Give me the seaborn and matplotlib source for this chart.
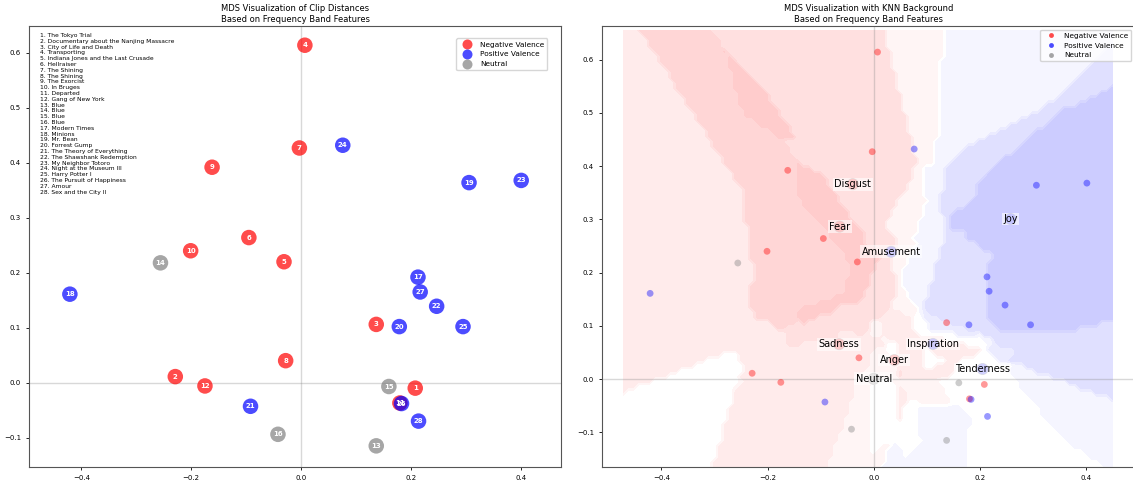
import numpy as np
import pandas as pd
import matplotlib
matplotlib.use("Agg")
import matplotlib.pyplot as plt
from matplotlib.lines import Line2D
from matplotlib.colors import ListedColormap
import seaborn as sns

# ---------------
# Data
# ---------------
clip_titles = [
    "The Tokyo Trial", "Documentary about the Nanjing Massacre", "City of Life and Death",
    "Transporting", "Indiana Jones and the Last Crusade", "Hellraiser", "The Shining",
    "The Shining", "The Exorcist", "In Bruges", "Departed", "Gang of New York",
    "Blue", "Blue", "Blue", "Blue", "Modern Times", "Minions", "Mr. Bean", "Forrest Gump",
    "The Theory of Everything", "The Shawshank Redemption", "My Neighbor Totoro",
    "Night at the Museum III", "Harry Potter I", "The Pursuit of Happiness", "Amour",
    "Sex and the City II",
]
mds_x = [0.208, -0.229, 0.137, 0.007, -0.031, -0.095, -0.003, -0.028, -0.162, -0.201,
         0.180, -0.175, 0.137, -0.256, 0.160, -0.042, 0.213, -0.421, 0.306, 0.179,
         -0.092, 0.247, 0.401, 0.076, 0.295, 0.183, 0.217, 0.214]
mds_y = [-0.010, 0.011, 0.106, 0.614, 0.220, 0.264, 0.427, 0.040, 0.392, 0.240,
         -0.037, -0.006, -0.115, 0.218, -0.007, -0.094, 0.192, 0.161, 0.364, 0.102,
         -0.043, 0.139, 0.368, 0.432, 0.102, -0.038, 0.165, -0.070]
valence = ["Negative Valence"] * 12 + ["Neutral"] * 4 + ["Positive Valence"] * 12
emotion = (["Anger"] * 3 + ["Disgust"] * 3 + ["Fear"] * 3 + ["Sadness"] * 3 + ["Neutral"] * 4
           + ["Amusement"] * 3 + ["Inspiration"] * 3 + ["Joy"] * 3 + ["Tenderness"] * 3)

valence_order = ["Negative Valence", "Positive Valence", "Neutral"]
valence_colors = {"Negative Valence": "red", "Positive Valence": "blue", "Neutral": "gray"}
valence_score = {"Negative Valence": -1, "Neutral": 0, "Positive Valence": 1}

df = pd.DataFrame({"clip": range(1, 29), "x": mds_x, "y": mds_y,
                   "valence": valence, "emotion": emotion})

centroids = df.groupby("emotion", sort=False)[["x", "y"]].mean()
centroids["valence"] = df.groupby("emotion", sort=False)["valence"].first()

# ---------------
# Figure
# ---------------
fig = plt.figure(figsize=(11.33, 4.84), dpi=100)
ax1 = fig.add_axes([0.026, 0.0351, 0.4695, 0.9112])
ax2 = fig.add_axes([0.5316, 0.0351, 0.4699, 0.9112])

# ---------------
# LEFT: MDS scatter with clip numbers
# ---------------
sns.scatterplot(data=df, x="x", y="y", hue="valence", palette=valence_colors,
                hue_order=valence_order, s=125, alpha=0.7, linewidth=0,
                legend=False, ax=ax1, zorder=3)
for _, r in df.iterrows():
    ax1.text(r["x"], r["y"], str(r["clip"]), color="white", fontsize=5, fontweight="bold",
             ha="center", va="center", zorder=4)

ax1.axhline(0, color="gray", alpha=0.3, lw=1, zorder=1)
ax1.axvline(0, color="gray", alpha=0.3, lw=1, zorder=1)
ax1.set_xlim(-0.4946, 0.4742)
ax1.set_ylim(-0.1535, 0.649)
ax1.set_xlabel("")
ax1.set_ylabel("")
ax1.tick_params(labelsize=5, length=2.5, width=0.6)
ax1.set_title("MDS Visualization of Clip Distances\nBased on Frequency Band Features",
              fontsize=6, pad=3)

clip_list = "\n".join(f"{i}. {t}" for i, t in enumerate(clip_titles, 1))
ax1.text(0.02, 0.984, clip_list, transform=ax1.transAxes, fontsize=4.3,
         va="top", ha="left", linespacing=1.2)

handles1 = [Line2D([0], [0], marker="o", ls="", color=valence_colors[v], alpha=0.7,
                   markersize=7.2, markeredgewidth=0, label=v) for v in valence_order]
ax1.legend(handles=handles1, loc="upper right", bbox_to_anchor=(0.98, 0.98), fontsize=5.3)

# ---------------
# RIGHT: KNN background (k=5 on valence)
# ---------------
k = 5
pts = df[["x", "y"]].to_numpy()
scores = df["valence"].map(valence_score).to_numpy()
xx, yy = np.meshgrid(np.arange(df["x"].min() - 0.05, df["x"].max() + 0.05, 0.01),
                     np.arange(df["y"].min() - 0.05, df["y"].max() + 0.05, 0.01))
grid = np.c_[xx.ravel(), yy.ravel()]
d = np.sqrt(((grid[:, None, :] - pts[None, :, :]) ** 2).sum(axis=2))
nn = np.argsort(d, axis=1)[:, :k]
zz = scores[nn].mean(axis=1).reshape(xx.shape)

# bwr_r faded onto white (avoids seams from overlapping transparent patches)
bg_alpha = 0.22
base = plt.get_cmap("bwr_r")(np.linspace(0, 1, 256))
base[:, :3] = 1 - bg_alpha * (1 - base[:, :3])
bg_cmap = ListedColormap(base)
ax2.contourf(xx, yy, zz, levels=np.linspace(-1.1, 1.1, 12), cmap=bg_cmap,
             antialiased=False, zorder=0)

sns.scatterplot(data=df, x="x", y="y", hue="valence", palette=valence_colors,
                hue_order=valence_order, s=24, alpha=0.4, linewidth=0,
                legend=False, ax=ax2, zorder=3)
sns.scatterplot(data=centroids, x="x", y="y", hue="valence", palette=valence_colors,
                hue_order=valence_order, s=65, alpha=0.45, edgecolor="gray", linewidth=0.6,
                legend=False, ax=ax2, zorder=4)
for name, r in centroids.iterrows():
    ax2.text(r["x"], r["y"], name, fontsize=7, ha="center", va="center", zorder=5,
             bbox=dict(facecolor="white", alpha=0.6, edgecolor="none", pad=1))

ax2.axhline(0, color="gray", alpha=0.3, lw=1, zorder=1)
ax2.axvline(0, color="gray", alpha=0.3, lw=1, zorder=1)
ax2.set_xlim(-0.511, 0.491)
ax2.set_ylim(-0.165, 0.663)
ax2.set_xlabel("")
ax2.set_ylabel("")
ax2.tick_params(labelsize=5, length=2.5, width=0.6)
ax2.set_title("MDS Visualization with KNN Background\nBased on Frequency Band Features",
              fontsize=6, pad=3)

handles2 = [Line2D([0], [0], marker="o", ls="", color=valence_colors[v], alpha=0.7,
                   markersize=3.5, markeredgewidth=0, label=v) for v in valence_order]
ax2.legend(handles=handles2, loc="upper right", fontsize=5.3)

for ax in (ax1, ax2):
    for sp in ax.spines.values():
        sp.set_linewidth(0.8)
        sp.set_color("#555555")

fig.savefig("out.png", dpi=100)
